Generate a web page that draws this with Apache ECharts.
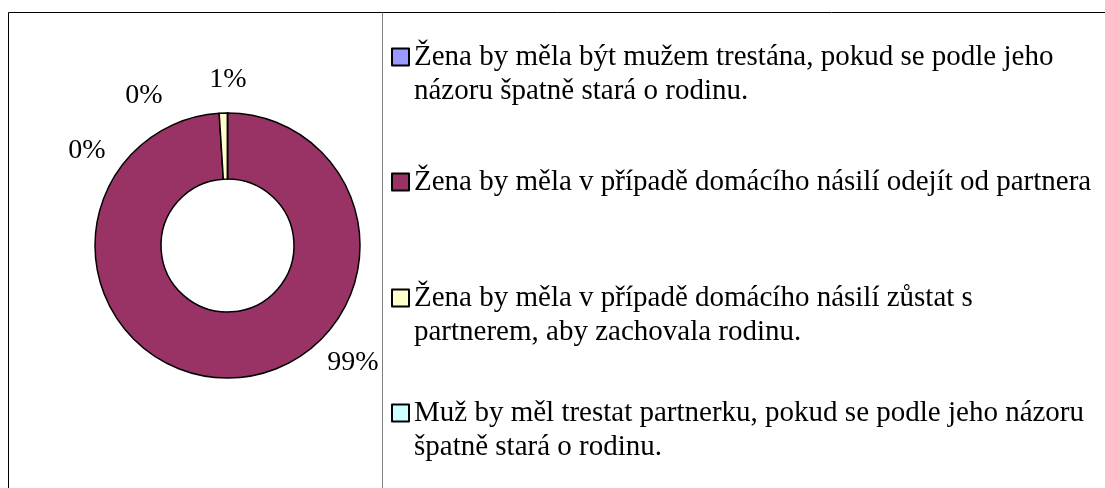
<!DOCTYPE html>
<html>
<head>
<meta charset="utf-8">
<script src="https://cdn.jsdelivr.net/npm/echarts@6/dist/echarts.min.js"></script>
<style>
  html, body { margin: 0; padding: 0; background: #fff; }
  #chart { width: 1105px; height: 488px; }
</style>
</head>
<body>
<div id="chart"></div>
<script>
// data
const names = [
  'Žena by měla být mužem trestána, pokud se podle jeho názoru špatně stará o rodinu.',
  'Žena by měla v případě domácího násilí odejít od partnera',
  'Žena by měla v případě domácího násilí zůstat s partnerem, aby zachovala rodinu.',
  'Muž by měl trestat partnerku, pokud se podle jeho názoru špatně stará o rodinu.'
]
const legendLines = [
  'Žena by měla být mužem trestána, pokud se podle jeho\nnázoru špatně stará o rodinu.',
  'Žena by měla v případě domácího násilí odejít od partnera',
  'Žena by měla v případě domácího násilí zůstat s\npartnerem, aby zachovala rodinu.',
  'Muž by měl trestat partnerku, pokud se podle jeho názoru\nšpatně stará o rodinu.'
]
const values = [0, 99, 1, 0]
const colors = ['#9999FF', '#993366', '#FFFFCC', '#CCFFFF']

// label spots (excel-like placement)
const labelPos = [[144, 96], [353, 363], [228, 80], [87, 151]]
const legendTop = [6, 165, 247, 362]

const font = '"Liberation Serif", "Times New Roman", serif'
const lineH = 34

const chart = echarts.init(document.getElementById('chart'))

// one legend per entry so the gaps can follow the reference
// a blank first line keeps the square level with the first text line
const legends = names.map((n, i) => ({
  data: [n],
  top: legendTop[i],
  left: 391,
  padding: 0,
  orient: 'vertical',
  selectedMode: false,
  icon: 'rect',
  itemWidth: 17,
  itemHeight: 17,
  itemStyle: { borderColor: '#000', borderWidth: 2 },
  formatter: (name) => {
    const txt = legendLines[names.indexOf(name)]
    return txt.indexOf('\n') > -1 ? '\n' + txt : txt
  },
  textStyle: {
    fontFamily: font,
    fontSize: 29,
    color: '#000',
    lineHeight: lineH
  }
}))

const option = {
  backgroundColor: '#fff',
  animation: false,
  color: colors,
  legend: legends,
  graphic: [
    {
      type: 'rect',
      silent: true,
      shape: { x: 8.5, y: 12.5, width: 1200, height: 600 },
      style: { fill: 'none', stroke: '#000', lineWidth: 1 }
    },
    {
      type: 'line',
      silent: true,
      shape: { x1: 382.5, y1: 12.5, x2: 382.5, y2: 488 },
      style: { stroke: '#808080', lineWidth: 1 }
    }
  ],
  series: [
    {
      type: 'pie',
      center: [227.5, 245.5],
      radius: [66.5, 132.5],
      startAngle: 90,
      clockwise: true,
      avoidLabelOverlap: false,
      itemStyle: { borderColor: '#000', borderWidth: 1.5 },
      label: {
        show: true,
        position: 'outside',
        fontFamily: font,
        fontSize: 28,
        color: '#000',
        formatter: (p) => Math.round(p.percent) + '%'
      },
      labelLine: { show: false },
      labelLayout: (params) => ({
        x: labelPos[params.dataIndex][0],
        y: labelPos[params.dataIndex][1],
        align: 'center',
        verticalAlign: 'middle'
      }),
      emphasis: { disabled: true },
      data: names.map((n, i) => ({ name: n, value: values[i] }))
    }
  ]
}

chart.setOption(option)
</script>
</body>
</html>
